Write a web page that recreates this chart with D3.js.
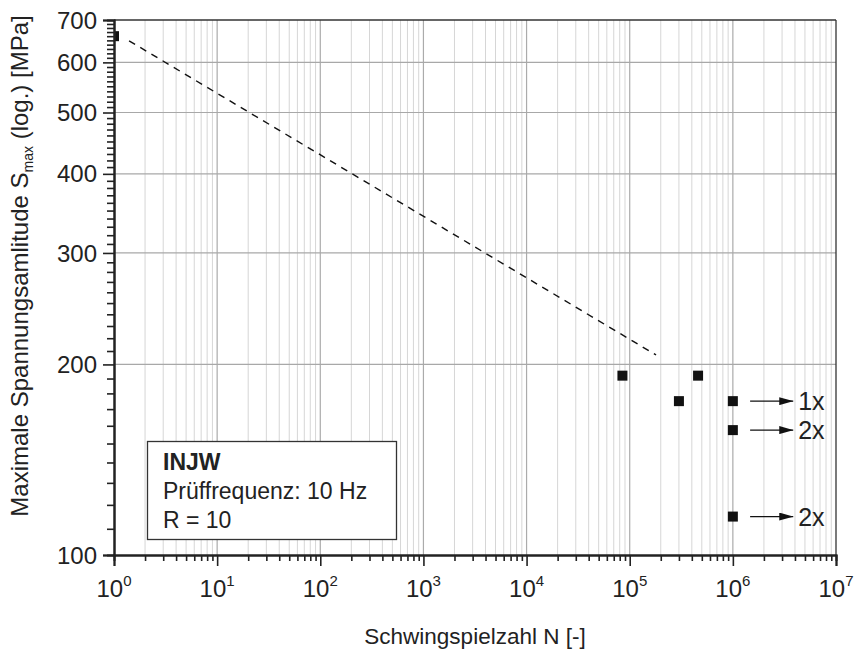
<!DOCTYPE html>
<html>
<head>
<meta charset="utf-8">
<script src="https://cdn.jsdelivr.net/npm/d3@7"></script>
<style>
  body { margin: 0; background: #fff; }
  svg text { font-family: "Liberation Sans", Arial, sans-serif; fill: #222; }
</style>
</head>
<body>
<div id="chart"></div>
<script>
// S-N data (Wöhler)
var cyclesN = [1, 8.5e4, 3.0e5, 4.6e5, 1e6, 1e6, 1e6];
var stressS = [660, 192, 175, 192, 175, 157.5, 115];

// run-outs (no failure) with count labels
var runoutS = [175, 157.5, 115];
var runoutLabels = ["1x", "2x", "2x"];

// dashed trend line
var trendN = [1.4, 1.8e5];
var trendS = [649, 207];

var xTickExp = [0, 1, 2, 3, 4, 5, 6, 7];
var yTicks = [100, 200, 300, 400, 500, 600, 700];

var legendLines = ["INJW", "Prüffrequenz: 10 Hz", "R = 10"];

var svgWidth = 857, svgHeight = 654;
var margin = {top: 20, right: 21, bottom: 99, left: 114};
var width = svgWidth - margin.left - margin.right;
var height = svgHeight - margin.top - margin.bottom;

var svg = d3.select("#chart").append("svg")
    .attr("width", svgWidth).attr("height", svgHeight);

var g = svg.append("g")
    .attr("transform", "translate(" + margin.left + " " + margin.top + ")");

var x = d3.scaleLog().domain([1, 1e7]).range([0, width]);
var y = d3.scaleLog().domain([100, 700]).range([height, 0]);

// minor tick values
var xMinor = [];
for (var k = 0; k < 7; k++) {
    for (var m = 2; m <= 9; m++) xMinor.push(m * Math.pow(10, k));
}
var yMinor = [];
for (var v = 110; v < 700; v += 10) {
    if (v % 100 != 0) yMinor.push(v);
}

// grid
var grid = g.append("g").attr("class", "grid");
grid.selectAll("line.vminor").data(xMinor).enter().append("line")
    .attr("x1", d => x(d)).attr("x2", d => x(d))
    .attr("y1", 0).attr("y2", height)
    .attr("stroke", "#d6d6d6").attr("stroke-width", 1);
grid.selectAll("line.vmajor").data(xTickExp.slice(1, 7)).enter().append("line")
    .attr("x1", d => x(Math.pow(10, d))).attr("x2", d => x(Math.pow(10, d)))
    .attr("y1", 0).attr("y2", height)
    .attr("stroke", "#ababab").attr("stroke-width", 1.2);
grid.selectAll("line.hmajor").data(yTicks.slice(1, 6)).enter().append("line")
    .attr("x1", 0).attr("x2", width)
    .attr("y1", d => y(d)).attr("y2", d => y(d))
    .attr("stroke", "#a8a8a8").attr("stroke-width", 1.2);

// frame top / right
g.append("line").attr("x1", 0).attr("x2", width).attr("y1", 0).attr("y2", 0)
    .attr("stroke", "#333").attr("stroke-width", 1.3);
g.append("line").attr("x1", width).attr("x2", width).attr("y1", 0).attr("y2", height)
    .attr("stroke", "#333").attr("stroke-width", 1.3);

// clip for data
g.append("clipPath").attr("id", "plotClip").append("rect")
    .attr("x", 0).attr("y", 0).attr("width", width).attr("height", height);
var plot = g.append("g").attr("clip-path", "url(#plotClip)");

// trend line
var line = d3.line().x(d => x(d[0])).y(d => y(d[1]));
plot.append("path")
    .datum(d3.zip(trendN, trendS))
    .attr("d", line)
    .attr("fill", "none").attr("stroke", "#111").attr("stroke-width", 1.4)
    .attr("stroke-dasharray", "7,6");

// points
var sq = 10;
plot.selectAll("rect.pt").data(d3.zip(cyclesN, stressS)).enter().append("rect")
    .attr("class", "pt")
    .attr("x", d => x(d[0]) - sq / 2).attr("y", d => y(d[1]) - sq / 2)
    .attr("width", sq).attr("height", sq)
    .attr("fill", "#111");

// run-out arrows
svg.append("defs").append("marker")
    .attr("id", "arrow").attr("viewBox", "0 0 14 8")
    .attr("refX", 14).attr("refY", 4)
    .attr("markerWidth", 14).attr("markerHeight", 8)
    .attr("markerUnits", "userSpaceOnUse").attr("orient", "auto")
    .append("path").attr("d", "M0,0 L14,4 L0,8 Z").attr("fill", "#111");

var arrowFrom = 1.47e6, arrowTo = 3.85e6, labelAt = 4.3e6;
var runouts = g.append("g").selectAll("g").data(d3.zip(runoutS, runoutLabels)).enter().append("g");
runouts.append("line")
    .attr("x1", x(arrowFrom)).attr("x2", x(arrowTo))
    .attr("y1", d => y(d[0])).attr("y2", d => y(d[0]))
    .attr("stroke", "#111").attr("stroke-width", 1.3)
    .attr("marker-end", "url(#arrow)");
runouts.append("text")
    .attr("x", x(labelAt)).attr("y", d => y(d[0]) + 9)
    .attr("font-size", "25px")
    .text(d => d[1]);

// axes
var xAxisMajor = d3.axisBottom(x).tickValues(xTickExp.map(e => Math.pow(10, e)))
    .tickSize(11).tickFormat("");
var xAxisMinor = d3.axisBottom(x).tickValues(xMinor).tickSize(6).tickFormat("");
var yAxisMajor = d3.axisLeft(y).tickValues(yTicks).tickSize(11).tickFormat("");
var yAxisMinor = d3.axisLeft(y).tickValues(yMinor).tickSize(7).tickFormat("");

[[xAxisMinor, "x"], [xAxisMajor, "x"], [yAxisMinor, "y"], [yAxisMajor, "y"]].forEach(function(a) {
    var ax = g.append("g")
        .attr("class", a[1] + " axis")
        .attr("transform", a[1] == "x" ? "translate(0 " + height + ")" : "translate(0 0)")
        .call(a[0]);
    ax.select(".domain").attr("stroke", "#222").attr("stroke-width", 2);
    ax.selectAll(".tick line").attr("stroke", "#222").attr("stroke-width", 1.6);
});

// x tick labels 10^n
var xl = g.append("g").selectAll("text").data(xTickExp).enter().append("text")
    .attr("x", d => x(Math.pow(10, d)))
    .attr("y", height + 42)
    .attr("text-anchor", "middle")
    .attr("font-size", "24px");
xl.append("tspan").text("10");
xl.append("tspan").attr("dy", -11).attr("font-size", "15px").text(d => d);

// y tick labels
g.append("g").selectAll("text").data(yTicks).enter().append("text")
    .attr("x", -17).attr("y", d => y(d))
    .attr("dy", "0.36em")
    .attr("text-anchor", "end")
    .attr("font-size", "24px")
    .text(d => d);

// axis titles
svg.append("text")
    .attr("x", margin.left + width / 2).attr("y", 644)
    .attr("text-anchor", "middle")
    .attr("font-size", "22.5px")
    .text("Schwingspielzahl N [-]");

var yt = svg.append("text")
    .attr("transform", "translate(28 266) rotate(-90)")
    .attr("text-anchor", "middle")
    .attr("font-size", "24px");
yt.append("tspan").text("Maximale Spannungsamlitude S");
yt.append("tspan").attr("dy", 5).attr("font-size", "14px").text("max");
yt.append("tspan").attr("dy", -5).text(" (log.) [MPa]");

// legend box
var lg = svg.append("g").attr("class", "legend");
lg.append("rect")
    .attr("x", 147.5).attr("y", 441.5).attr("width", 249).attr("height", 98)
    .attr("fill", "#fff").attr("stroke", "#333").attr("stroke-width", 1.3);
lg.selectAll("text").data(legendLines).enter().append("text")
    .attr("x", 163).attr("y", (d, i) => 470 + i * 29)
    .attr("font-size", "23px")
    .attr("font-weight", (d, i) => i == 0 ? "bold" : "normal")
    .text(d => d);
</script>
</body>
</html>
